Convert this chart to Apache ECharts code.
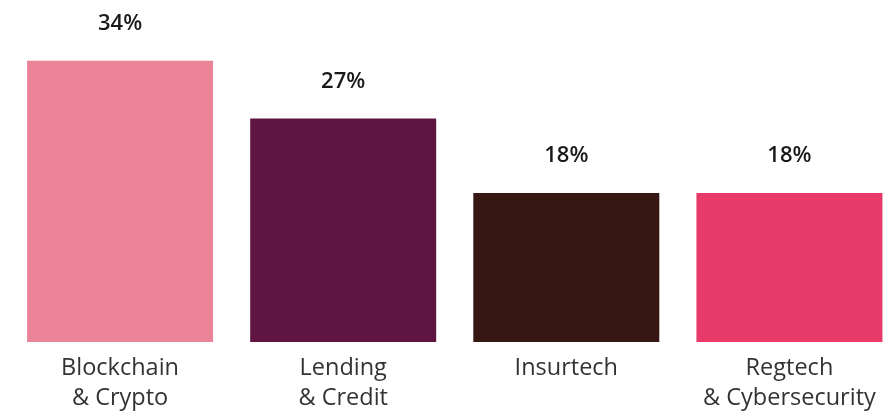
<!DOCTYPE html>
<html>
<head>
<meta charset="utf-8">
<script src="https://cdn.jsdelivr.net/npm/echarts@6/dist/echarts.min.js"></script>
<style>
html,body{margin:0;padding:0;background:#fff;overflow:hidden;}
#chart{width:901px;height:414px;}
</style>
</head>
<body>
<div id="chart"></div>
<script>
var categories = ['Blockchain\n& Crypto', 'Lending\n& Credit', 'Insurtech', 'Regtech\n& Cybersecurity'];
var values = [34, 27, 18, 18];
var colors = ['#EB8499', '#5F1441', '#361713', '#E73A68'];

var chart = echarts.init(document.getElementById('chart'));
chart.setOption({
  animation: false,
  grid: {left: 8.5, right: 0, top: 11, bottom: 70, containLabel: false},
  xAxis: {
    type: 'category',
    data: categories,
    axisLine: {show: false},
    axisTick: {show: false},
    axisLabel: {
      interval: 0,
      margin: 11,
      fontFamily: 'Open Sans',
      fontSize: 23.5,
      lineHeight: 30.5,
      color: '#333333',
      verticalAlign: 'top'
    }
  },
  yAxis: {
    type: 'value',
    min: 0,
    max: 40,
    show: false,
    splitLine: {show: false}
  },
  series: [{
    type: 'bar',
    barWidth: 186,
    data: values.map(function (v, i) {
      return {value: v, itemStyle: {color: colors[i]}};
    }),
    label: {
      show: true,
      position: 'top',
      distance: 26,
      formatter: '{c}%',
      fontFamily: 'Open Sans',
      fontSize: 22,
      fontWeight: 600,
      color: '#1a1a1a'
    }
  }]
});
</script>
</body>
</html>
